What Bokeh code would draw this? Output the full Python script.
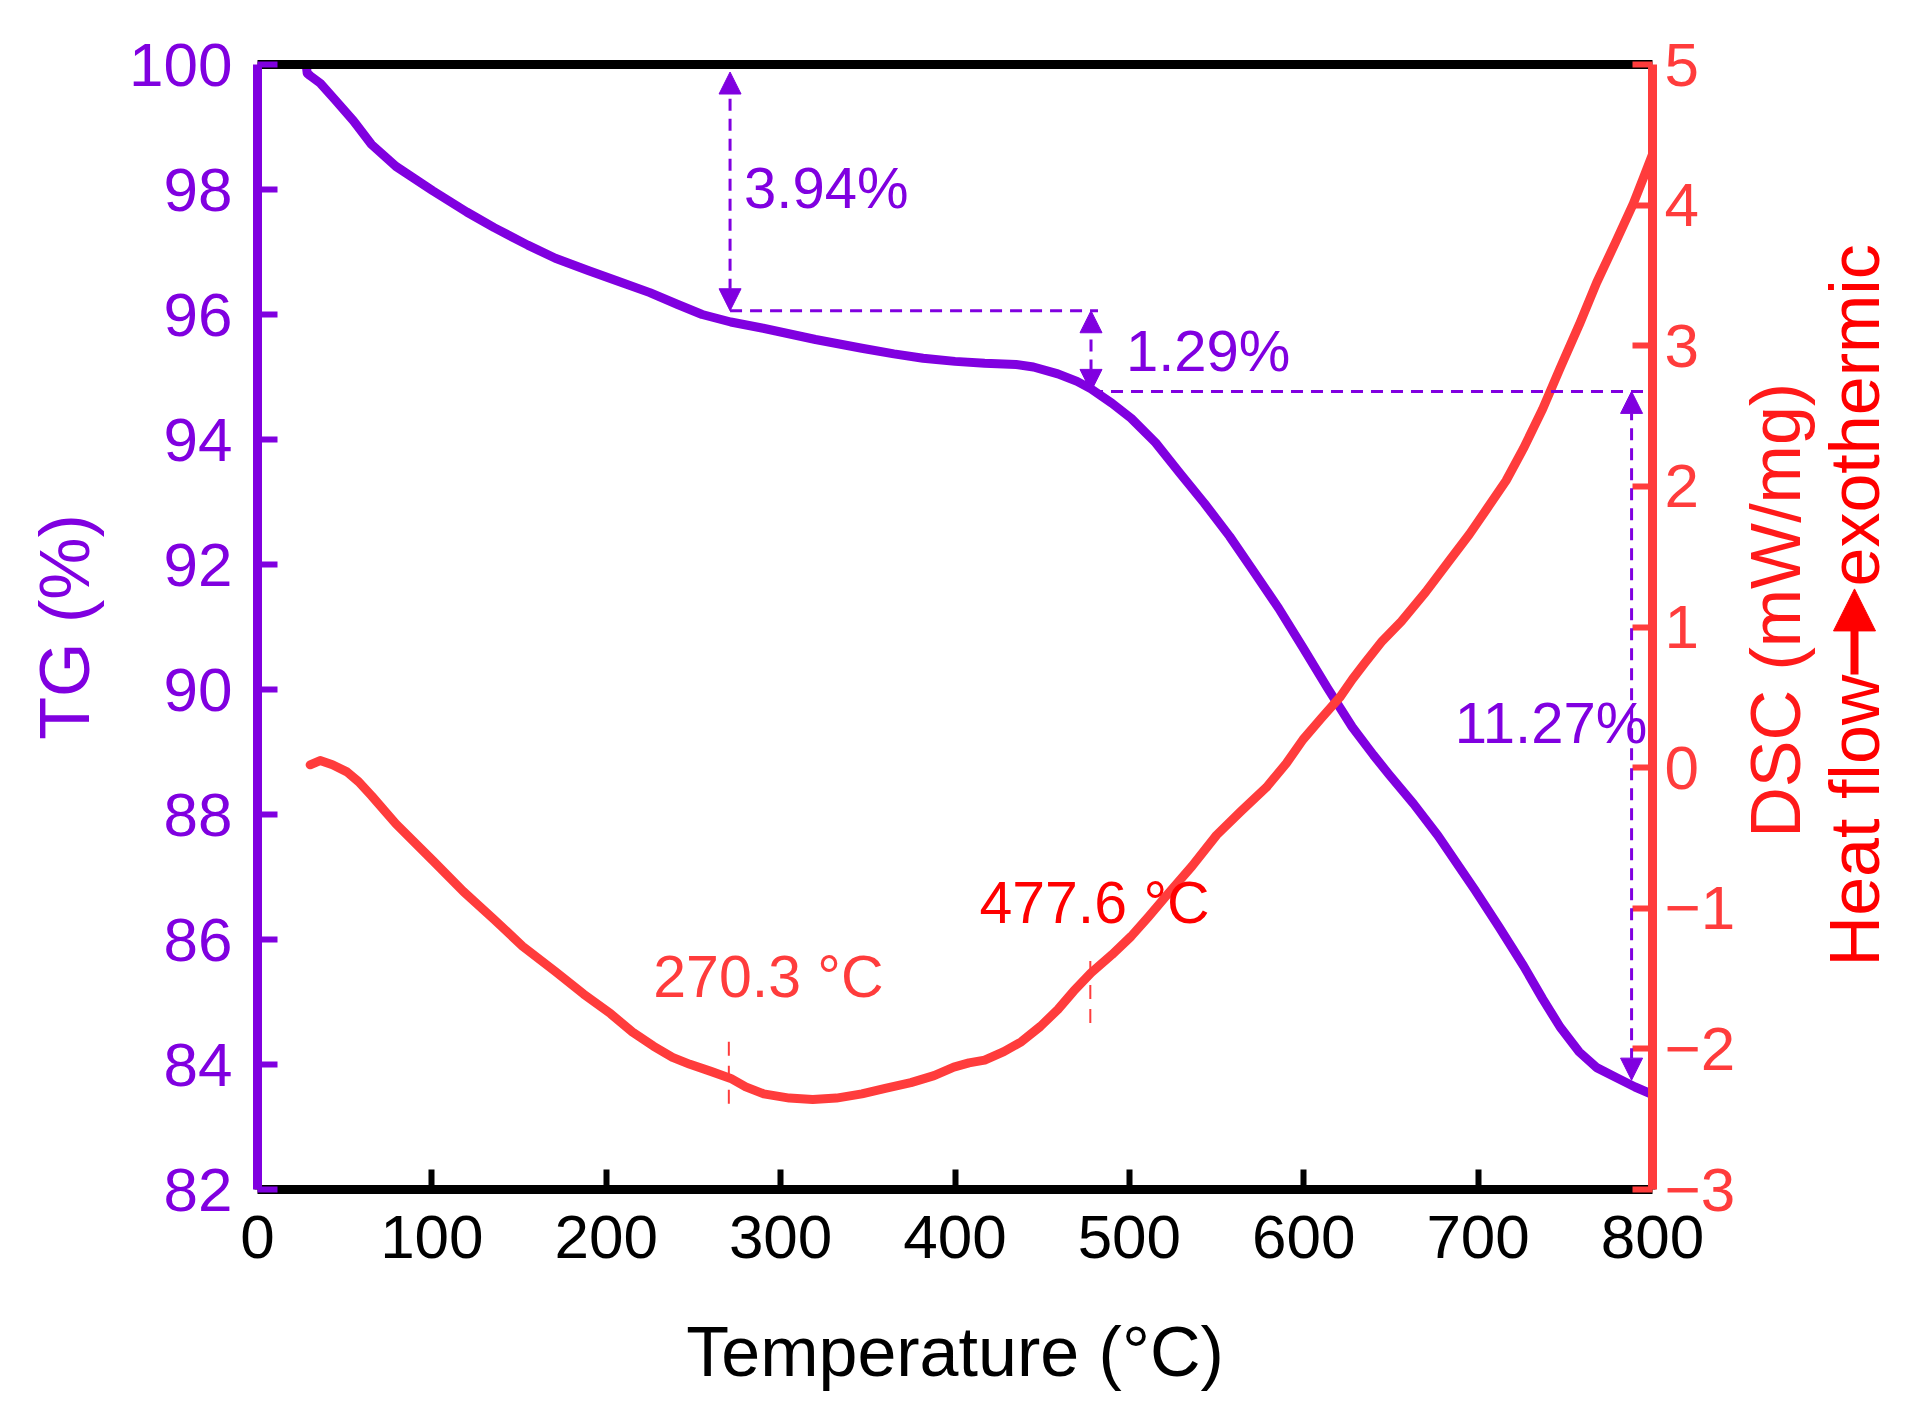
import math

from bokeh.plotting import figure
from bokeh.layouts import row
from bokeh.models import Range1d, LinearAxis, FixedTicker, Arrow, NormalHead, Label
from bokeh.embed import file_html
from bokeh.resources import INLINE

# TG curve (%)
tg_temp = [28.0, 28.5, 30.2, 36.0, 44.0, 55.0, 65.4, 79.4, 100.5, 120.0, 135.7, 155.0,
           170.8, 190.0, 206.0, 225.0, 241.0, 255.0, 271.4, 290.0, 320.0, 346.6, 365.0,
           381.7, 400.0, 417.0, 435.0, 445.0, 459.0, 470.0, 478.0, 490.0, 501.0, 515.0,
           529.0, 543.0, 557.5, 571.0, 585.6, 600.0, 613.7, 627.8, 640.0, 648.9, 663.0,
           677.0, 698.0, 712.0, 726.0, 737.0, 747.0, 758.0, 768.0, 780.0, 790.0, 800.0]
tg = [99.98, 99.86, 99.82, 99.70, 99.45, 99.10, 98.72, 98.37, 97.98, 97.64, 97.39, 97.11,
      96.90, 96.70, 96.54, 96.35, 96.16, 96.00, 95.88, 95.78, 95.60, 95.46, 95.37,
      95.30, 95.25, 95.22, 95.20, 95.16, 95.05, 94.93, 94.81, 94.58, 94.34, 93.95,
      93.46, 92.98, 92.45, 91.90, 91.30, 90.65, 90.02, 89.40, 88.95, 88.64, 88.17,
      87.66, 86.80, 86.20, 85.58, 85.05, 84.60, 84.20, 83.95, 83.78, 83.64, 83.52]

# DSC curve (mW/mg)
dsc_temp = [30.2, 35.9, 43.0, 51.3, 58.0, 65.4, 79.4, 100.5, 118.0, 135.7, 152.0, 170.8,
            187.0, 202.5, 215.0, 227.0, 238.0, 248.0, 260.0, 271.4, 280.0, 290.3, 305.0,
            318.4, 332.0, 346.6, 360.0, 374.7, 388.0, 399.3, 408.0, 417.0, 428.0, 438.0,
            449.0, 459.0, 468.0, 478.0, 490.0, 501.0, 511.0, 522.0, 536.0, 550.0, 564.0,
            578.6, 590.0, 599.6, 610.0, 620.7, 628.0, 634.8, 645.0, 656.0, 670.0, 684.0,
            695.0, 705.0, 716.0, 726.0, 737.0, 747.0, 758.0, 768.0, 779.0, 789.0, 795.0,
            800.0]
dsc = [0.02, 0.05, 0.02, -0.03, -0.10, -0.20, -0.40, -0.66, -0.88, -1.08, -1.27, -1.45,
       -1.61, -1.75, -1.88, -1.98, -2.06, -2.11, -2.16, -2.21, -2.27, -2.32, -2.35,
       -2.36, -2.35, -2.32, -2.28, -2.24, -2.19, -2.13, -2.10, -2.08, -2.02, -1.95,
       -1.84, -1.72, -1.59, -1.46, -1.33, -1.20, -1.06, -0.90, -0.70, -0.48, -0.31,
       -0.14, 0.03, 0.20, 0.35, 0.50, 0.63, 0.74, 0.90, 1.04, 1.25, 1.48,
       1.66, 1.84, 2.04, 2.27, 2.55, 2.84, 3.15, 3.45, 3.74, 4.01, 4.20,
       4.36]

x_ticks = [0, 100, 200, 300, 400, 500, 600, 700, 800]
tg_ticks = [82, 84, 86, 88, 90, 92, 94, 96, 98, 100]
dsc_ticks = [-3, -2, -1, 0, 1, 2, 3, 4, 5]

# mass-loss steps: arrow temperatures, TG levels, labels
step_temps = [271.0, 478.0, 788.0]
step_levels = [100.0, 96.06, 94.77, 83.50]
step_labels = ["3.94%", "1.29%", "11.27%"]

# DSC peak temperatures and labels
peak_temps = [270.3, 477.6]
peak_labels = ["270.3 \u00b0C", "477.6 \u00b0C"]

PURPLE = "#8000E0"
RED = "#FF3C3C"
FONT = "Liberation Sans"

FULL_H = 1418
MAIN_RIGHT = 86
SIDE_W = 170
SIDE_SHIFT = 67  # side panel draws a little high; pull its texts down

p = figure(
    frame_width=1395,
    frame_height=1125,
    min_border_left=257,
    min_border_right=MAIN_RIGHT,
    min_border_top=64,
    min_border_bottom=229,
    x_range=Range1d(0, 800),
    y_range=Range1d(82, 100),
    x_axis_location=None,
    y_axis_location=None,
    output_backend="svg",
    toolbar_location=None,
    tools="",
)
p.extra_y_ranges = {"dsc": Range1d(-3, 5)}
p.xgrid.visible = False
p.ygrid.visible = False
p.outline_line_color = None


def style_axis(ax, color, label_color=None):
    ax.axis_line_color = color
    ax.axis_line_width = 9
    ax.major_tick_line_color = color
    ax.major_tick_line_width = 6
    ax.major_tick_in = 20
    ax.major_tick_out = 0
    ax.minor_tick_line_color = None
    ax.major_label_text_font = FONT
    ax.major_label_text_font_size = "62px"
    ax.major_label_text_color = label_color or color
    ax.axis_label_text_font = FONT
    ax.axis_label_text_font_size = "70px"
    ax.axis_label_text_font_style = "normal"


bottom = LinearAxis(ticker=FixedTicker(ticks=x_ticks), axis_label="Temperature (\u00b0C)")
style_axis(bottom, "black")
bottom.major_label_standoff = 26
bottom.axis_label_standoff = 52
bottom.axis_label_text_color = "black"
p.add_layout(bottom, "below")

top = LinearAxis(ticker=FixedTicker(ticks=[]))
style_axis(top, "black")
top.major_label_text_color = None
p.add_layout(top, "above")

left = LinearAxis(ticker=FixedTicker(ticks=tg_ticks), axis_label="TG (%)")
style_axis(left, PURPLE)
left.major_label_standoff = 25
left.axis_label_standoff = 22
left.axis_label_text_color = PURPLE
p.add_layout(left, "left")

right = LinearAxis(
    y_range_name="dsc",
    ticker=FixedTicker(ticks=dsc_ticks),
    major_label_overrides={t: str(t).replace("-", "\u2212") for t in dsc_ticks},
)
style_axis(right, RED)
right.major_label_standoff = 12
p.add_layout(right, "right")

# curves
p.line(tg_temp, tg, line_color=PURPLE, line_width=9, line_join="round", line_cap="round")
p.line(dsc_temp, dsc, line_color=RED, line_width=9, line_join="round", line_cap="round",
       y_range_name="dsc")

# step arrows and guide lines
head = dict(size=22, fill_color=PURPLE, line_color=PURPLE)
arrow_top = [step_levels[0] - 0.12, step_levels[1], step_levels[2]]
arrow_bottom = [step_levels[1], step_levels[2], step_levels[3] + 0.25]
for xt, y0, y1 in zip(step_temps, arrow_top, arrow_bottom):
    p.add_layout(Arrow(x_start=xt, y_start=y1, x_end=xt, y_end=y0,
                       start=NormalHead(**head), end=NormalHead(**head),
                       line_color=PURPLE, line_width=3, line_dash="12 8"))

p.segment(x0=[step_temps[0], step_temps[1]], y0=[step_levels[1], step_levels[2]],
          x1=[step_temps[1] + 4, 800], y1=[step_levels[1], step_levels[2]],
          line_color=PURPLE, line_width=3, line_dash="12 8")

label_pos = [(279, 98.03, "left"), (498, 95.42, "left"), (797, 89.47, "right")]
for (lx, ly, al), txt in zip(label_pos, step_labels):
    p.add_layout(Label(x=lx, y=ly, text=txt, text_align=al, text_baseline="middle",
                       text_color=PURPLE, text_font=FONT, text_font_size="58px"))

# DSC peak markers
p.segment(x0=peak_temps, y0=[-1.95, -1.375], x1=peak_temps, y1=[-2.45, -1.88],
          line_color=RED, line_width=2, line_dash="14 10", y_range_name="dsc")
peak_label_pos = [(293, -1.49, RED), (480, -0.965, "#FF0000")]
for (lx, ly, col), txt in zip(peak_label_pos, peak_labels):
    p.add_layout(Label(x=lx, y=ly, y_range_name="dsc", text=txt, text_align="center",
                       text_baseline="middle", text_color=col, text_font=FONT,
                       text_font_size="59px"))

# narrow side panel holding the right-hand titles (pixel coordinates, y up)
side = figure(
    width=SIDE_W,
    height=FULL_H,
    min_border=0,
    x_range=Range1d(0, SIDE_W),
    y_range=Range1d(0, FULL_H),
    x_axis_location=None,
    y_axis_location=None,
    output_backend="svg",
    toolbar_location=None,
    tools="",
)
side.xgrid.visible = False
side.ygrid.visible = False
side.outline_line_color = None

base = FULL_H - SIDE_SHIFT
side.add_layout(Label(x=37, y=base - 621, text="DSC (mW/mg)", angle=math.pi / 2,
                      text_align="center", text_baseline="middle", text_color="#FF1A1A",
                      text_font=FONT, text_font_size="70px"))
side.add_layout(Label(x=116, y=base - 702, text="Heat flow", angle=math.pi / 2,
                      text_align="right", text_baseline="middle", text_color="#FF0000",
                      text_font=FONT, text_font_size="70px"))
side.add_layout(Label(x=116, y=base - 591, text="exothermic", angle=math.pi / 2,
                      text_align="left", text_baseline="middle", text_color="#FF0000",
                      text_font=FONT, text_font_size="70px"))
side.add_layout(Arrow(x_start=116, y_start=base - 702, x_end=116, y_end=base - 594,
                      end=NormalHead(size=42, fill_color="#FF0000", line_color="#FF0000"),
                      line_color="#FF0000", line_width=8))

layout = row(p, side, spacing=0)
open("out.html", "w").write(file_html(layout, INLINE))
